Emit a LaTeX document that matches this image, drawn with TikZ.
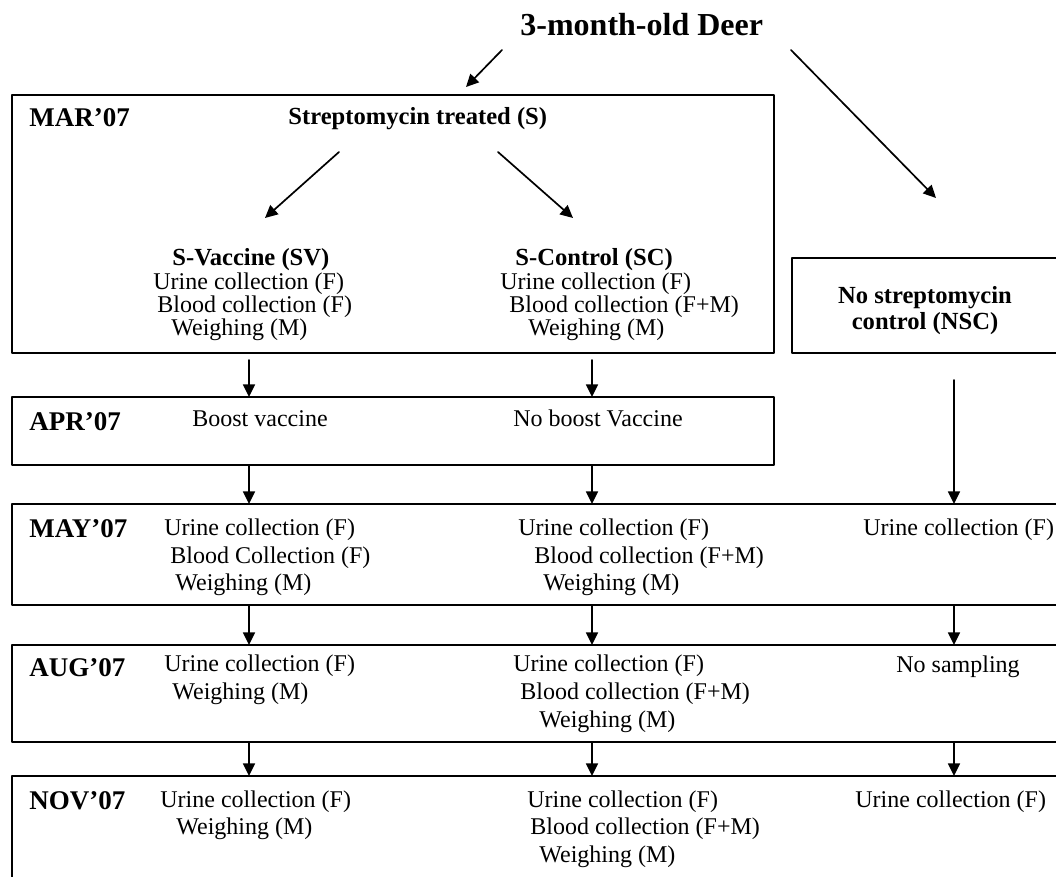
\documentclass[tikz,border=0pt]{standalone}
\usepackage{fontspec}
\setmainfont{Liberation Serif}
\usetikzlibrary{arrows.meta,positioning}

\tikzset{
  box/.style={draw, line width=1.3pt, inner sep=0pt, outer sep=0pt},
  arr/.style={line width=0.85pt, -{Triangle[length=6.3pt,width=6pt]}},
  txt/.style={anchor=base west, inner sep=0pt, font=\fontsize{12}{14}\selectfont},
  grp/.style={anchor=base west, inner sep=0pt, font=\bfseries\fontsize{12.3}{14}\selectfont},
  month/.style={anchor=base west, inner sep=0pt, font=\bfseries\fontsize{13.5}{16}\selectfont},
}

\begin{document}
\begin{tikzpicture}[x=0.5pt, y=-0.5pt, line cap=round, line join=round]

\useasboundingbox (0,0) rectangle (1056,877);
\clip (0,0) rectangle (1056,877);

% --- title ---
\node[anchor=base west, inner sep=0pt, font=\bfseries\fontsize{16}{19}\selectfont] (deer) at (520,36) {3-month-old Deer};

% --- boxes (one per month) ---
\node[box, minimum width=381pt, minimum height=129pt] (mar) at (393,224) {};
\node[box, minimum width=134pt, minimum height=47.5pt] (nsc) at (926,305.5) {};
\node[box, minimum width=381pt, minimum height=34pt] (apr) at (393,431) {};
\node[box, minimum width=524pt, minimum height=50.5pt] (may) at (536,554.5) {};
\node[box, minimum width=524pt, minimum height=48.5pt] (aug) at (536,693.5) {};
\node[box, minimum width=524pt, minimum height=62pt] (nov) at (536,838) {};

% --- column positions ---
\coordinate (c1) at (249,0);
\coordinate (c2) at (592,0);
\coordinate (c3) at (954,0);

% --- MAR'07 ---
\node[month] (mar-lbl) at (29,127) {MAR'07};
\node[grp] (strep) at (288,125) {Streptomycin treated (S)};
\node[grp] (sv-h) at (172,266) {S-Vaccine (SV)};
\node[txt] (sv-1) at (153,290) {Urine collection (F)};
\node[txt] (sv-2) at (157,313) {Blood collection (F)};
\node[txt] (sv-3) at (171,336) {Weighing (M)};
\node[grp] (sc-h) at (515,266) {S-Control (SC)};
\node[txt] (sc-1) at (500,290) {Urine collection (F)};
\node[txt] (sc-2) at (509,313) {Blood collection (F+M)};
\node[txt] (sc-3) at (528,336) {Weighing (M)};

% no streptomycin group
\node[grp, anchor=base] (nsc-1) at (925,304) {No streptomycin};
\node[grp, anchor=base] (nsc-2) at (925,330) {control (NSC)};

% --- APR'07 ---
\node[month] (apr-lbl) at (29,430) {APR'07};
\node[txt] (apr-1) at (192,427) {Boost vaccine};
\node[txt] (apr-2) at (513,427) {No boost Vaccine};

% --- MAY'07 ---
\node[month] (may-lbl) at (29,538) {MAY'07};
\node[txt] (may-11) at (164,536) {Urine collection (F)};
\node[txt] (may-12) at (170,563) {Blood Collection (F)};
\node[txt] (may-13) at (175,590) {Weighing (M)};
\node[txt] (may-21) at (518,536) {Urine collection (F)};
\node[txt] (may-22) at (534,563) {Blood collection (F+M)};
\node[txt] (may-23) at (543,590) {Weighing (M)};
\node[txt] (may-31) at (863,536) {Urine collection (F)};

% --- AUG'07 ---
\node[month] (aug-lbl) at (29,676) {AUG'07};
\node[txt] (aug-11) at (164,671) {Urine collection (F)};
\node[txt] (aug-12) at (172,699) {Weighing (M)};
\node[txt] (aug-21) at (513,671) {Urine collection (F)};
\node[txt] (aug-22) at (520,699) {Blood collection (F+M)};
\node[txt] (aug-23) at (539,727) {Weighing (M)};
\node[txt] (aug-31) at (896,672) {No sampling};

% --- NOV'07 ---
\node[month] (nov-lbl) at (29,809) {NOV'07};
\node[txt] (nov-11) at (160,807) {Urine collection (F)};
\node[txt] (nov-12) at (176,834) {Weighing (M)};
\node[txt] (nov-21) at (527,807) {Urine collection (F)};
\node[txt] (nov-22) at (530,834) {Blood collection (F+M)};
\node[txt] (nov-23) at (539,862) {Weighing (M)};
\node[txt] (nov-31) at (855,807) {Urine collection (F)};

% --- arrow ends for the slanted arrows ---
\coordinate (deer-l) at (502,50);
\coordinate (deer-r) at (791,50);
\coordinate (mar-in) at (466,87);
\coordinate (nsc-in) at (936,198);
\coordinate (strep-l) at (339,152);
\coordinate (strep-r) at (498,152);
\coordinate (sv-in) at (265,218);
\coordinate (sc-in) at (573,218);
\coordinate (nsc-out) at (954,380);

% --- arrows ---
\draw[arr] (deer-l) -- (mar-in);
\draw[arr] (deer-r) -- (nsc-in);
\draw[arr] (strep-l) -- (sv-in);
\draw[arr] (strep-r) -- (sc-in);

\draw[arr] ([yshift=-3.5pt]mar.south -| c1) -- (apr.north -| c1);
\draw[arr] ([yshift=-3.5pt]mar.south -| c2) -- (apr.north -| c2);
\draw[arr] (nsc-out) -- (may.north -| c3);

\draw[arr] (apr.south -| c1) -- (may.north -| c1);
\draw[arr] (apr.south -| c2) -- (may.north -| c2);

\draw[arr] (may.south -| c1) -- (aug.north -| c1);
\draw[arr] (may.south -| c2) -- (aug.north -| c2);
\draw[arr] (may.south -| c3) -- (aug.north -| c3);

\draw[arr] (aug.south -| c1) -- (nov.north -| c1);
\draw[arr] (aug.south -| c2) -- (nov.north -| c2);
\draw[arr] (aug.south -| c3) -- (nov.north -| c3);

\end{tikzpicture}
\end{document}
